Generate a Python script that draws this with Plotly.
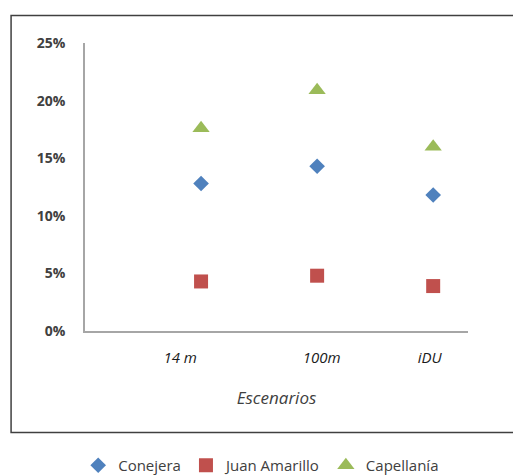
import plotly.graph_objects as go

# Scenario positions along the horizontal axis and their labels
scenario_pos = [1, 2, 3]
scenario_labels = ["14 m", "100m", "iDU"]
label_pos = [0.82, 2.04, 2.97]

# Share (fraction) per basin and scenario
conejera = [0.128, 0.143, 0.118]
juan_amarillo = [0.043, 0.048, 0.039]
capellania = [0.176, 0.209, 0.160]

y_ticks = [0, 0.05, 0.10, 0.15, 0.20, 0.25]
y_tick_text = ["0%", "5%", "10%", "15%", "20%", "25%"]

font_family = "Open Sans, Liberation Sans, sans-serif"
text_color = "#404040"

fig = go.Figure()
fig.add_trace(go.Scatter(
    x=scenario_pos, y=conejera, mode="markers", name="Conejera",
    marker=dict(symbol="diamond", size=12, color="#4f81bd"),
))
fig.add_trace(go.Scatter(
    x=scenario_pos, y=juan_amarillo, mode="markers", name="Juan Amarillo",
    marker=dict(symbol="square", size=14, color="#c0504d"),
))
fig.add_trace(go.Scatter(
    x=scenario_pos, y=capellania, mode="markers", name="Capellanía",
    marker=dict(symbol="triangle-up", size=15, color="#9bbb59"),
))

fig.update_layout(
    width=513, height=475,
    margin=dict(l=85, r=45, t=43, b=144, autoexpand=False),
    paper_bgcolor="white", plot_bgcolor="white",
    font=dict(family=font_family, color=text_color, size=13),
    showlegend=True,
    legend=dict(
        orientation="h", x=0.46, xanchor="center",
        yref="container", y=0.02, yanchor="middle",
        font=dict(size=15, color=text_color), itemwidth=30,
        traceorder="normal",
    ),
    xaxis=dict(
        range=[0, 3.3], showgrid=False, zeroline=False,
        showline=True, linecolor="#a6a6a6", linewidth=1.5,
        tickmode="array", tickvals=label_pos, ticktext=scenario_labels,
        tickfont=dict(size=15, style="italic", color="#1a1a1a"),
        ticks="", ticklabelstandoff=12,
        title=dict(text="Escenarios", standoff=26,
                   font=dict(size=17, style="italic", color=text_color)),
    ),
    yaxis=dict(
        range=[0, 0.25], showgrid=False, zeroline=False,
        showline=True, linecolor="#a6a6a6", linewidth=1.5,
        tickmode="array", tickvals=y_ticks, ticktext=y_tick_text,
        tickfont=dict(size=14, color=text_color, weight="bold"),
        ticks="", ticklabelstandoff=15,
    ),
    shapes=[dict(
        type="rect", xref="paper", yref="paper",
        x0=-0.193, x1=1.14, y0=-0.352, y1=1.0955,
        line=dict(color="#404040", width=1.5), layer="below",
    )],
)

fig.write_html("out.html")
